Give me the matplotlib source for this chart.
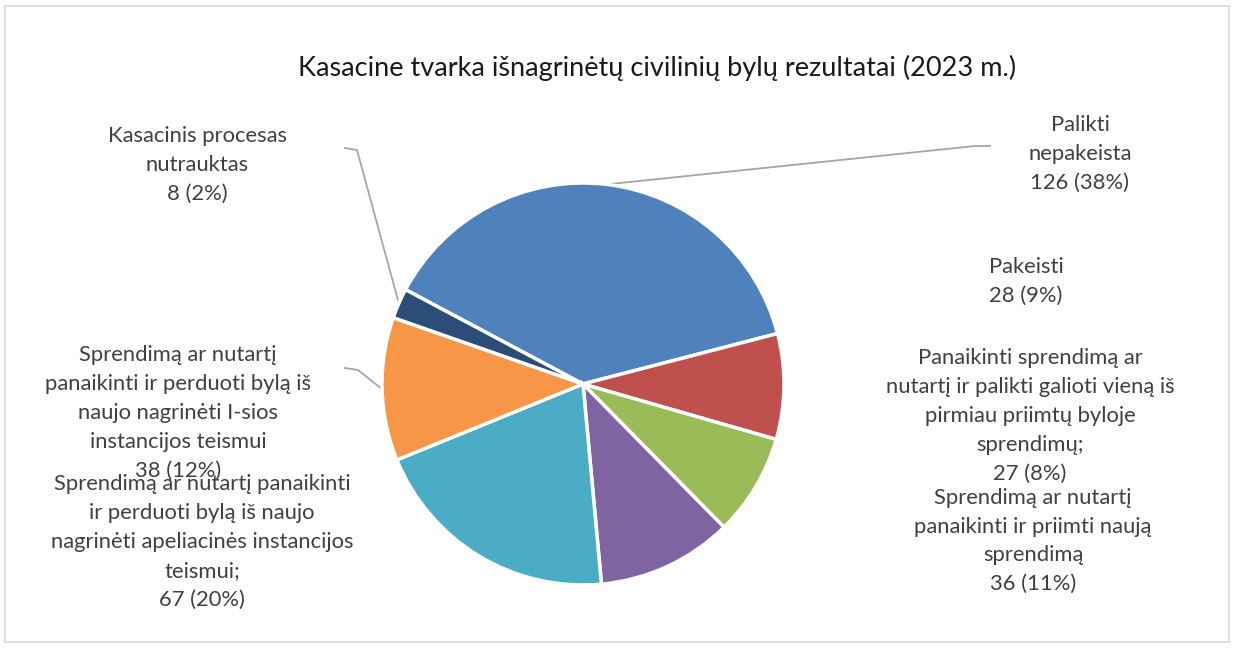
import numpy as np
import matplotlib
matplotlib.use("Agg")
import matplotlib.pyplot as plt
from matplotlib.patches import Rectangle

plt.rcParams['font.family'] = ['Lato', 'DejaVu Sans']

# ---- data ----
title = "Kasacine tvarka išnagrinėtų civilinių bylų rezultatai (2023 m.)"
categories = [
    "Palikti\nnepakeista",
    "Pakeisti",
    "Panaikinti sprendimą ar\nnutartį ir palikti galioti vieną iš\npirmiau priimtų byloje\nsprendimų;",
    "Sprendimą ar nutartį\npanaikinti ir priimti naują\nsprendimą",
    "Sprendimą ar nutartį panaikinti\nir perduoti bylą iš naujo\nnagrinėti apeliacinės instancijos\nteismui;",
    "Sprendimą ar nutartį\npanaikinti ir perduoti bylą iš\nnaujo nagrinėti I-sios\ninstancijos teismui",
    "Kasacinis procesas\nnutrauktas",
]
values = [126, 28, 27, 36, 67, 38, 8]
percents = [38, 9, 8, 11, 20, 12, 2]
colors = ["#4F81BD", "#C0504D", "#9BBB59", "#8064A2", "#4BACC6", "#F79646", "#2C4D75"]

W, H = 1235, 648
fig = plt.figure(figsize=(W / 100, H / 100), dpi=100)
ax = fig.add_axes([0, 0, 1, 1])

# border
fig.patches.append(Rectangle((5 / W, 6 / H), (1229 - 5) / W, (642 - 6) / H,
                             transform=fig.transFigure, fill=False,
                             edgecolor="#d9d9d9", linewidth=1.2))

cx, cy, R = 583, H - 384, 201
start = 152
wedges, _ = ax.pie(values, colors=colors, startangle=start, counterclock=False,
                   center=(cx, cy), radius=R, frame=True,
                   wedgeprops=dict(edgecolor="white", linewidth=2.5))
ax.set_xlim(0, W)
ax.set_ylim(0, H)
ax.set_aspect('equal')
ax.axis('off')

ax.text(657, H - 68, title, ha='center', va='center', fontsize=19.5, color='#1a1a1a')

# label positions (centre of text block, pixel coords from top)
label_pos = [(1080, 154), (1026, 281), (1030, 416), (1033, 541),
             (202, 542), (178, 413), (197, 165)]
txtcol = "#404040"
for i, (lab, v, p) in enumerate(zip(categories, values, percents)):
    x, y = label_pos[i]
    ax.text(x, H - y, f"{lab}\n{v} ({p}%)", ha='center', va='center',
            fontsize=15.8, color=txtcol, linespacing=1.55)

# leader lines: from wedge edge at mid angle to knee and short horizontal
def mid_point(w):
    a = np.deg2rad((w.theta1 + w.theta2) / 2)
    return cx + R * np.cos(a), cy + R * np.sin(a)

leaders = {0: [(975, 146), (990, 146)],
           6: [(357, 150), (345, 148)],
           5: [(358, 370), (345, 368)]}
for i, pts in leaders.items():
    x0, y0 = mid_point(wedges[i])
    xs = [x0] + [p[0] for p in pts]
    ys = [y0] + [H - p[1] for p in pts]
    ax.plot(xs, ys, color="#a6a6a6", linewidth=1.3, zorder=0)

fig.savefig("out.png", dpi=100)
